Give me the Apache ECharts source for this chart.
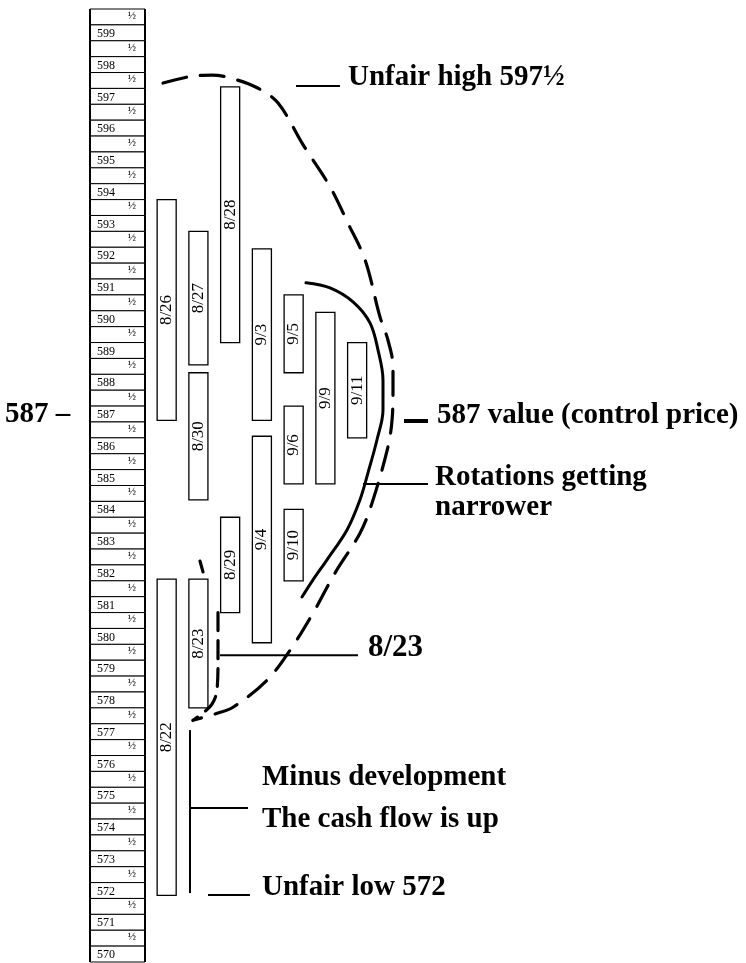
<!DOCTYPE html>
<html>
<head>
<meta charset="utf-8">
<script src="https://cdn.jsdelivr.net/npm/echarts@6/dist/echarts.min.js"></script>
<style>
  html, body { margin: 0; padding: 0; background: #fff; }
  #chart { width: 746px; height: 963px; }
</style>
</head>
<body>
<div id="chart"></div>
<script>
// ---- Price ladder (half-point rungs, top to bottom) ----
const ladderLevels = [
  599.5, 599, 598.5, 598, 597.5, 597, 596.5, 596, 595.5, 595,
  594.5, 594, 593.5, 593, 592.5, 592, 591.5, 591, 590.5, 590,
  589.5, 589, 588.5, 588, 587.5, 587, 586.5, 586, 585.5, 585,
  584.5, 584, 583.5, 583, 582.5, 582, 581.5, 581, 580.5, 580,
  579.5, 579, 578.5, 578, 577.5, 577, 576.5, 576, 575.5, 575,
  574.5, 574, 573.5, 573, 572.5, 572, 571.5, 571, 570.5, 570
];
const ladderLabels = ladderLevels.map(v => (v % 1 === 0 ? String(v) : '½'));

// ---- Daily ranges (drawn top / bottom of each bar, in price) ----
const sessionDates = ['8/22', '8/23', '8/26', '8/27', '8/28', '8/29', '8/30', '9/3', '9/4', '9/5', '9/6', '9/9', '9/10', '9/11'];
const sessionColumn = [1, 2, 1, 2, 3, 3, 2, 4, 4, 5, 5, 6, 5, 7];
const rangeHigh = [581.8, 581.8, 593.75, 592.75, 597.3, 583.75, 588.3, 592.2, 586.3, 590.75, 587.25, 590.2, 584.0, 589.25];
const rangeLow  = [571.85, 577.75, 586.8, 588.55, 589.25, 580.75, 584.3, 586.8, 579.8, 588.3, 584.8, 584.8, 581.75, 586.25];

// ---- Hand-drawn outlines, [column, price] ----
const outerOutline = [
  [0.885, 597.42], [1.83, 597.64], [2.43, 597.67], [3.0, 597.58], [3.85, 597.27],
  [4.51, 596.79], [5.3, 595.47], [6.15, 594.15], [6.71, 593.01], [7.25, 591.85],
  [7.72, 590.06], [7.97, 589.33], [8.13, 588.48], [8.13, 587.76], [8.1, 586.81],
  [7.97, 585.96], [7.47, 584.2], [7.09, 583.25], [6.3, 581.99], [5.61, 580.73],
  [4.89, 579.57], [4.16, 578.62], [3.09, 577.77], [2.59, 577.58], [1.83, 577.36]
];
const hookOutline = [
  [2.617, 580.75], [2.617, 579.26], [2.586, 578.31], [2.428, 577.87], [2.145, 577.59], [1.83, 577.36]
];
const hookTick = [[2.05, 582.37], [2.145, 582.03]];
const innerOutline = [
  [5.389, 591.13], [6.145, 590.97], [6.87, 590.53], [7.405, 589.87], [7.657, 589.02],
  [7.815, 588.07], [7.815, 587.13], [7.626, 586.19], [7.342, 585.15], [7.09, 584.3],
  [6.681, 583.35], [6.051, 582.41], [5.61, 581.78], [5.263, 581.24]
];

// ---- Call-out leaders [x1, y1, x2, y2] and labels ----
const leaderSegments = [
  [5.074, 597.33, 6.46, 597.33],
  [7.185, 584.8, 9.232, 584.8],
  [2.68, 579.41, 7.027, 579.41],
  [1.735, 577.05, 1.735, 571.92],
  [1.735, 574.6, 3.562, 574.6],
  [2.302, 571.86, 3.625, 571.86]
];
const valueMarker = [[8.476, 586.78, 9.232, 586.78]];
const calloutText = ['Unfair high 597½', '587 value (control price)', 'Rotations getting\nnarrower', '8/23',
  'Minus development', 'The cash flow is up', 'Unfair low 572', '587 –'];
const calloutX = [6.712, 9.516, 9.453, 7.342, 4.003, 4.003, 4.003, -4.09];
const calloutY = [597.6, 586.94, 584.54, 579.63, 575.57, 574.25, 572.08, 587.0];

// ---- Layout constants ----
const LADDER_LEFT = -1.415, LADDER_RIGHT = 0.318;
const BAR_HALF = 0.3;
const SERIF = '"Liberation Serif", "Times New Roman", serif';

const chart = echarts.init(document.getElementById('chart'), null, { renderer: 'canvas' });

const ladderSeries = {
  type: 'custom',
  silent: true,
  data: ladderLevels.map(v => [v]),
  encode: { y: 0 },
  renderItem: (params, api) => {
    const v = api.value(0);
    const tl = api.coord([LADDER_LEFT, v + 0.25]);
    const br = api.coord([LADDER_RIGHT, v - 0.25]);
    const w = br[0] - tl[0], h = br[1] - tl[1];
    const label = ladderLabels[params.dataIndex];
    const isWhole = label !== '½';
    return {
      type: 'group',
      children: [
        { type: 'rect', shape: { x: tl[0], y: tl[1], width: w, height: h },
          style: { fill: '#fff', stroke: '#000', lineWidth: 1 } },
        { type: 'line', shape: { x1: tl[0], y1: tl[1], x2: tl[0], y2: br[1] },
          style: { stroke: '#000', lineWidth: 2 } },
        { type: 'line', shape: { x1: br[0], y1: tl[1], x2: br[0], y2: br[1] },
          style: { stroke: '#000', lineWidth: 2 } },
        isWhole
          ? { type: 'text', x: tl[0] + 7, y: tl[1] + h / 2 + 1,
              style: { text: label, font: '12px ' + SERIF, fill: '#000', align: 'left', verticalAlign: 'middle' } }
          : { type: 'text', x: br[0] - 9, y: tl[1] + h / 2 - 1,
              style: { text: label, font: '11px ' + SERIF, fill: '#000', align: 'right', verticalAlign: 'middle' } }
      ]
    };
  }
};

const barSeries = {
  type: 'custom',
  silent: true,
  data: sessionDates.map((d, i) => [sessionColumn[i], rangeHigh[i], rangeLow[i]]),
  encode: { x: 0, y: [1, 2] },
  renderItem: (params, api) => {
    const c = api.value(0);
    const tl = api.coord([c - BAR_HALF, api.value(1)]);
    const br = api.coord([c + BAR_HALF, api.value(2)]);
    return {
      type: 'group',
      children: [
        { type: 'rect', shape: { x: tl[0], y: tl[1], width: br[0] - tl[0], height: br[1] - tl[1] },
          style: { fill: '#fff', stroke: '#000', lineWidth: 1.3 } },
        { type: 'text', x: (tl[0] + br[0]) / 2, y: (tl[1] + br[1]) / 2, rotation: Math.PI / 2,
          style: { text: sessionDates[params.dataIndex], font: '17px ' + SERIF, fill: '#000',
                   align: 'center', verticalAlign: 'middle' } }
      ]
    };
  }
};

function outline(data, dash, width) {
  return {
    type: 'line', data: data, smooth: 0.35, showSymbol: false, silent: true,
    lineStyle: { color: '#000', width: width, type: dash, cap: 'round', join: 'round' }
  };
}

function segments(list, width) {
  return {
    type: 'custom', silent: true, data: list, encode: { x: [0, 2], y: [1, 3] },
    renderItem: (params, api) => {
      const a = api.coord([api.value(0), api.value(1)]);
      const b = api.coord([api.value(2), api.value(3)]);
      return { type: 'line', shape: { x1: a[0], y1: a[1], x2: b[0], y2: b[1] },
               style: { stroke: '#000', lineWidth: width } };
    }
  };
}

const calloutSeries = {
  type: 'custom', silent: true,
  data: calloutText.map((t, i) => [calloutX[i], calloutY[i]]),
  encode: { x: 0, y: 1 },
  renderItem: (params, api) => {
    const p = api.coord([api.value(0), api.value(1)]);
    const size = calloutText[params.dataIndex] === '8/23' ? 31 : 29;
    return { type: 'text', x: p[0], y: p[1],
      style: { text: calloutText[params.dataIndex], font: 'bold ' + size + 'px ' + SERIF, fill: '#000',
               align: 'left', verticalAlign: 'middle', lineHeight: 30 } };
  }
};

chart.setOption({
  animation: false,
  backgroundColor: '#fff',
  grid: { left: 0, right: 0, top: 9, bottom: 1 },
  xAxis: { type: 'value', min: -4.25, max: 19.25, show: false },
  yAxis: { type: 'value', min: 569.75, max: 599.75, show: false },
  series: [
    ladderSeries,
    barSeries,
    outline(outerOutline, [24, 14], 3.2),
    outline(hookOutline, [18, 10], 3.2),
    outline(hookTick, 'solid', 3.2),
    outline(innerOutline, 'solid', 3),
    segments(leaderSegments, 2),
    segments(valueMarker, 4),
    calloutSeries
  ]
});
</script>
</body>
</html>
